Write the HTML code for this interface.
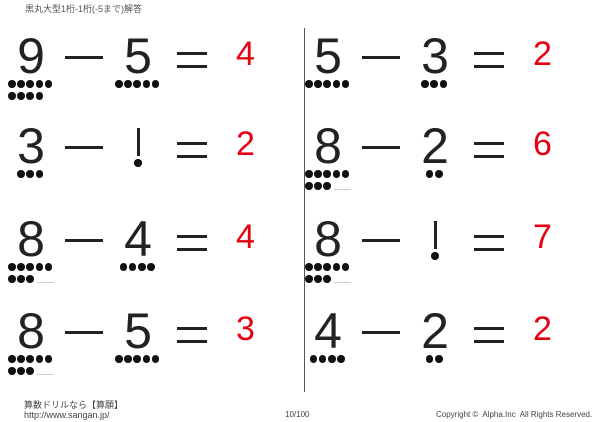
<!DOCTYPE html>
<html><head><meta charset="utf-8"><style>
body{margin:0;width:600px;height:422px;background:#fff;position:relative;overflow:hidden;font-family:"Liberation Sans","Noto Sans CJK JP",sans-serif}
.a{position:absolute}
.d{position:absolute;font-size:50px;line-height:1;color:#222;width:50px;text-align:center}
.r{position:absolute;font-size:34px;line-height:1;color:#e60012}
.dot{position:absolute;width:7.5px;height:7.5px;border-radius:50%;background:#111}
.ln{position:absolute;background:#222;height:3px}
.one{position:absolute;background:#222;width:3px}
.s{position:absolute;font-size:8px;color:#444;white-space:nowrap}
</style></head><body>
<div class="s" style="left:25px;top:2px;font-size:9px;color:#555">黒丸大型1桁-1桁(-5まで)解答</div>
<div class="a" style="left:304px;top:28px;width:1px;height:364px;background:#555"></div>
<div id="c"></div>
<div class="s" style="left:24px;top:398px;font-size:9px">算数ドリルなら【算願】</div>
<div class="s" style="left:24px;top:410px;font-size:9px">http://www.sangan.jp/</div>
<div class="s" style="left:285px;top:410px">10/100</div>
<div class="s" style="left:436px;top:410px">Copyright ©&nbsp; Alpha.Inc&nbsp; All Rights Reserved.</div>
<script>
var rows=[[75,[9,5,4],[5,3,2]],[165,[3,1,2],[8,2,6]],[258,[8,4,4],[8,1,7]],[350,[8,5,3],[4,2,2]]];
var h='';
function dots(cx,n,b){var pitch=9.2;var m=Math.min(n,5);var x0=cx-(m*pitch)/2;
 for(var i=0;i<m;i++)h+='<div class="dot" style="left:'+(x0+i*pitch)+'px;top:'+(b+5)+'px"></div>';
 for(var i=0;i<n-5;i++)h+='<div class="dot" style="left:'+(x0+i*pitch)+'px;top:'+(b+17)+'px"></div>';
 if(n==8)h+='<div class="a" style="left:'+(x0+3*pitch+1)+'px;top:'+(b+24)+'px;width:17px;height:1px;background:#ccc"></div>';}
function dig(cx,v,b){if(v==1){h+='<div class="one" style="left:'+(cx-1.5)+'px;top:'+(b-37)+'px;height:28px"></div>';h+='<div class="dot" style="left:'+(cx-3.75)+'px;top:'+(b-6)+'px"></div>';}
 else h+='<div class="d" style="left:'+(cx-25)+'px;top:'+(b-44)+'px">'+v+'</div>';
 if(v!=1)dots(cx,v,b);}
rows.forEach(function(r){var b=r[0];[[0,r[1]],[297,r[2]]].forEach(function(p){var o=p[0],v=p[1];
 dig(31+o,v[0],b);dig(138+o,v[1],b);
 h+='<div class="ln" style="left:'+(65+o)+'px;top:'+(b-19)+'px;width:38px"></div>';
 h+='<div class="ln" style="left:'+(177+o)+'px;top:'+(b-23)+'px;width:30px"></div>';
 h+='<div class="ln" style="left:'+(177+o)+'px;top:'+(b-10)+'px;width:30px"></div>';
 h+='<div class="r" style="left:'+(236+o)+'px;top:'+(b-38)+'px">'+v[2]+'</div>';});});
document.getElementById('c').innerHTML=h;
</script>
</body></html>
